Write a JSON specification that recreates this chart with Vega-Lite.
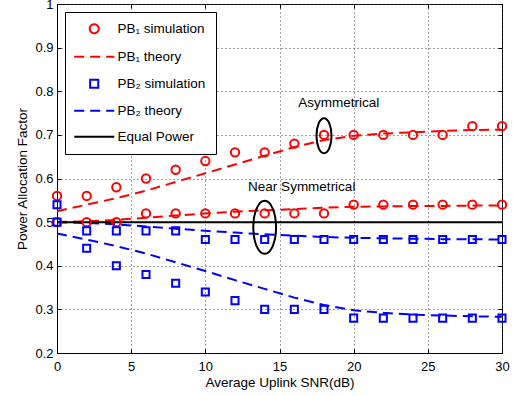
{
  "$schema": "https://vega.github.io/schema/vega-lite/v6.json",
  "width": 445,
  "height": 349,
  "autosize": "none",
  "padding": {"left": 57, "top": 4, "right": 11, "bottom": 43},
  "background": "white",
  "config": {
    "font": "Liberation Sans",
    "view": {"stroke": "black", "strokeWidth": 1},
    "axis": {
      "labelFont": "Liberation Sans",
      "titleFont": "Liberation Sans",
      "labelFontSize": 13,
      "titleFontSize": 13.5,
      "labelColor": "black",
      "titleColor": "black",
      "titleFontWeight": "normal",
      "domainColor": "black",
      "tickColor": "black",
      "tickSize": -4,
      "gridColor": "#444",
      "gridDash": [1, 3],
      "gridWidth": 1
    },
    "legend": {
      "labelFont": "Liberation Sans",
      "labelFontSize": 13.5,
      "labelColor": "black"
    }
  },
  "resolve": {"axis": {"x": "independent", "y": "independent"}},
  "datasets": {
    "pts": [
      {"x": 0, "y": 0.56, "series": "PB₁ simulation", "curve": "b1a"},
      {"x": 2, "y": 0.56, "series": "PB₁ simulation", "curve": "b1a"},
      {"x": 4, "y": 0.58, "series": "PB₁ simulation", "curve": "b1a"},
      {"x": 6, "y": 0.60, "series": "PB₁ simulation", "curve": "b1a"},
      {"x": 8, "y": 0.62, "series": "PB₁ simulation", "curve": "b1a"},
      {"x": 10, "y": 0.64, "series": "PB₁ simulation", "curve": "b1a"},
      {"x": 12, "y": 0.66, "series": "PB₁ simulation", "curve": "b1a"},
      {"x": 14, "y": 0.66, "series": "PB₁ simulation", "curve": "b1a"},
      {"x": 16, "y": 0.68, "series": "PB₁ simulation", "curve": "b1a"},
      {"x": 18, "y": 0.70, "series": "PB₁ simulation", "curve": "b1a"},
      {"x": 20, "y": 0.70, "series": "PB₁ simulation", "curve": "b1a"},
      {"x": 22, "y": 0.70, "series": "PB₁ simulation", "curve": "b1a"},
      {"x": 24, "y": 0.70, "series": "PB₁ simulation", "curve": "b1a"},
      {"x": 26, "y": 0.70, "series": "PB₁ simulation", "curve": "b1a"},
      {"x": 28, "y": 0.72, "series": "PB₁ simulation", "curve": "b1a"},
      {"x": 30, "y": 0.72, "series": "PB₁ simulation", "curve": "b1a"},
      {"x": 0, "y": 0.50, "series": "PB₁ simulation", "curve": "b1s"},
      {"x": 2, "y": 0.50, "series": "PB₁ simulation", "curve": "b1s"},
      {"x": 4, "y": 0.50, "series": "PB₁ simulation", "curve": "b1s"},
      {"x": 6, "y": 0.52, "series": "PB₁ simulation", "curve": "b1s"},
      {"x": 8, "y": 0.52, "series": "PB₁ simulation", "curve": "b1s"},
      {"x": 10, "y": 0.52, "series": "PB₁ simulation", "curve": "b1s"},
      {"x": 12, "y": 0.52, "series": "PB₁ simulation", "curve": "b1s"},
      {"x": 14, "y": 0.52, "series": "PB₁ simulation", "curve": "b1s"},
      {"x": 16, "y": 0.52, "series": "PB₁ simulation", "curve": "b1s"},
      {"x": 18, "y": 0.52, "series": "PB₁ simulation", "curve": "b1s"},
      {"x": 20, "y": 0.54, "series": "PB₁ simulation", "curve": "b1s"},
      {"x": 22, "y": 0.54, "series": "PB₁ simulation", "curve": "b1s"},
      {"x": 24, "y": 0.54, "series": "PB₁ simulation", "curve": "b1s"},
      {"x": 26, "y": 0.54, "series": "PB₁ simulation", "curve": "b1s"},
      {"x": 28, "y": 0.54, "series": "PB₁ simulation", "curve": "b1s"},
      {"x": 30, "y": 0.54, "series": "PB₁ simulation", "curve": "b1s"},
      {"x": 0, "y": 0.50, "series": "PB₂ simulation", "curve": "b2s"},
      {"x": 2, "y": 0.48, "series": "PB₂ simulation", "curve": "b2s"},
      {"x": 4, "y": 0.48, "series": "PB₂ simulation", "curve": "b2s"},
      {"x": 6, "y": 0.48, "series": "PB₂ simulation", "curve": "b2s"},
      {"x": 8, "y": 0.48, "series": "PB₂ simulation", "curve": "b2s"},
      {"x": 10, "y": 0.46, "series": "PB₂ simulation", "curve": "b2s"},
      {"x": 12, "y": 0.46, "series": "PB₂ simulation", "curve": "b2s"},
      {"x": 14, "y": 0.46, "series": "PB₂ simulation", "curve": "b2s"},
      {"x": 16, "y": 0.46, "series": "PB₂ simulation", "curve": "b2s"},
      {"x": 18, "y": 0.46, "series": "PB₂ simulation", "curve": "b2s"},
      {"x": 20, "y": 0.46, "series": "PB₂ simulation", "curve": "b2s"},
      {"x": 22, "y": 0.46, "series": "PB₂ simulation", "curve": "b2s"},
      {"x": 24, "y": 0.46, "series": "PB₂ simulation", "curve": "b2s"},
      {"x": 26, "y": 0.46, "series": "PB₂ simulation", "curve": "b2s"},
      {"x": 28, "y": 0.46, "series": "PB₂ simulation", "curve": "b2s"},
      {"x": 30, "y": 0.46, "series": "PB₂ simulation", "curve": "b2s"},
      {"x": 0, "y": 0.54, "series": "PB₂ simulation", "curve": "b2a"},
      {"x": 2, "y": 0.44, "series": "PB₂ simulation", "curve": "b2a"},
      {"x": 4, "y": 0.40, "series": "PB₂ simulation", "curve": "b2a"},
      {"x": 6, "y": 0.38, "series": "PB₂ simulation", "curve": "b2a"},
      {"x": 8, "y": 0.36, "series": "PB₂ simulation", "curve": "b2a"},
      {"x": 10, "y": 0.34, "series": "PB₂ simulation", "curve": "b2a"},
      {"x": 12, "y": 0.32, "series": "PB₂ simulation", "curve": "b2a"},
      {"x": 14, "y": 0.30, "series": "PB₂ simulation", "curve": "b2a"},
      {"x": 16, "y": 0.30, "series": "PB₂ simulation", "curve": "b2a"},
      {"x": 18, "y": 0.30, "series": "PB₂ simulation", "curve": "b2a"},
      {"x": 20, "y": 0.28, "series": "PB₂ simulation", "curve": "b2a"},
      {"x": 22, "y": 0.28, "series": "PB₂ simulation", "curve": "b2a"},
      {"x": 24, "y": 0.28, "series": "PB₂ simulation", "curve": "b2a"},
      {"x": 26, "y": 0.28, "series": "PB₂ simulation", "curve": "b2a"},
      {"x": 28, "y": 0.28, "series": "PB₂ simulation", "curve": "b2a"},
      {"x": 30, "y": 0.28, "series": "PB₂ simulation", "curve": "b2a"}
    ],
    "lines": [
      {"x": 0, "y": 0.525, "series": "PB₁ theory", "curve": "t1a"},
      {"x": 2, "y": 0.54, "series": "PB₁ theory", "curve": "t1a"},
      {"x": 4, "y": 0.555, "series": "PB₁ theory", "curve": "t1a"},
      {"x": 6, "y": 0.572, "series": "PB₁ theory", "curve": "t1a"},
      {"x": 8, "y": 0.592, "series": "PB₁ theory", "curve": "t1a"},
      {"x": 10, "y": 0.612, "series": "PB₁ theory", "curve": "t1a"},
      {"x": 12, "y": 0.632, "series": "PB₁ theory", "curve": "t1a"},
      {"x": 14, "y": 0.652, "series": "PB₁ theory", "curve": "t1a"},
      {"x": 16, "y": 0.672, "series": "PB₁ theory", "curve": "t1a"},
      {"x": 18, "y": 0.688, "series": "PB₁ theory", "curve": "t1a"},
      {"x": 20, "y": 0.698, "series": "PB₁ theory", "curve": "t1a"},
      {"x": 22, "y": 0.703, "series": "PB₁ theory", "curve": "t1a"},
      {"x": 24, "y": 0.706, "series": "PB₁ theory", "curve": "t1a"},
      {"x": 26, "y": 0.709, "series": "PB₁ theory", "curve": "t1a"},
      {"x": 28, "y": 0.711, "series": "PB₁ theory", "curve": "t1a"},
      {"x": 30, "y": 0.712, "series": "PB₁ theory", "curve": "t1a"},
      {"x": 0, "y": 0.500, "series": "PB₁ theory", "curve": "t1s"},
      {"x": 2, "y": 0.502, "series": "PB₁ theory", "curve": "t1s"},
      {"x": 4, "y": 0.505, "series": "PB₁ theory", "curve": "t1s"},
      {"x": 6, "y": 0.510, "series": "PB₁ theory", "curve": "t1s"},
      {"x": 8, "y": 0.515, "series": "PB₁ theory", "curve": "t1s"},
      {"x": 10, "y": 0.520, "series": "PB₁ theory", "curve": "t1s"},
      {"x": 12, "y": 0.524, "series": "PB₁ theory", "curve": "t1s"},
      {"x": 14, "y": 0.527, "series": "PB₁ theory", "curve": "t1s"},
      {"x": 16, "y": 0.530, "series": "PB₁ theory", "curve": "t1s"},
      {"x": 18, "y": 0.533, "series": "PB₁ theory", "curve": "t1s"},
      {"x": 20, "y": 0.535, "series": "PB₁ theory", "curve": "t1s"},
      {"x": 22, "y": 0.536, "series": "PB₁ theory", "curve": "t1s"},
      {"x": 24, "y": 0.537, "series": "PB₁ theory", "curve": "t1s"},
      {"x": 26, "y": 0.537, "series": "PB₁ theory", "curve": "t1s"},
      {"x": 28, "y": 0.538, "series": "PB₁ theory", "curve": "t1s"},
      {"x": 30, "y": 0.538, "series": "PB₁ theory", "curve": "t1s"},
      {"x": 0, "y": 0.500, "series": "PB₂ theory", "curve": "t2s"},
      {"x": 2, "y": 0.498, "series": "PB₂ theory", "curve": "t2s"},
      {"x": 4, "y": 0.495, "series": "PB₂ theory", "curve": "t2s"},
      {"x": 6, "y": 0.490, "series": "PB₂ theory", "curve": "t2s"},
      {"x": 8, "y": 0.485, "series": "PB₂ theory", "curve": "t2s"},
      {"x": 10, "y": 0.480, "series": "PB₂ theory", "curve": "t2s"},
      {"x": 12, "y": 0.476, "series": "PB₂ theory", "curve": "t2s"},
      {"x": 14, "y": 0.472, "series": "PB₂ theory", "curve": "t2s"},
      {"x": 16, "y": 0.469, "series": "PB₂ theory", "curve": "t2s"},
      {"x": 18, "y": 0.466, "series": "PB₂ theory", "curve": "t2s"},
      {"x": 20, "y": 0.464, "series": "PB₂ theory", "curve": "t2s"},
      {"x": 22, "y": 0.463, "series": "PB₂ theory", "curve": "t2s"},
      {"x": 24, "y": 0.462, "series": "PB₂ theory", "curve": "t2s"},
      {"x": 26, "y": 0.461, "series": "PB₂ theory", "curve": "t2s"},
      {"x": 28, "y": 0.461, "series": "PB₂ theory", "curve": "t2s"},
      {"x": 30, "y": 0.460, "series": "PB₂ theory", "curve": "t2s"},
      {"x": 0, "y": 0.474, "series": "PB₂ theory", "curve": "t2a"},
      {"x": 2, "y": 0.460, "series": "PB₂ theory", "curve": "t2a"},
      {"x": 4, "y": 0.445, "series": "PB₂ theory", "curve": "t2a"},
      {"x": 6, "y": 0.428, "series": "PB₂ theory", "curve": "t2a"},
      {"x": 8, "y": 0.408, "series": "PB₂ theory", "curve": "t2a"},
      {"x": 10, "y": 0.388, "series": "PB₂ theory", "curve": "t2a"},
      {"x": 12, "y": 0.367, "series": "PB₂ theory", "curve": "t2a"},
      {"x": 14, "y": 0.347, "series": "PB₂ theory", "curve": "t2a"},
      {"x": 16, "y": 0.327, "series": "PB₂ theory", "curve": "t2a"},
      {"x": 18, "y": 0.310, "series": "PB₂ theory", "curve": "t2a"},
      {"x": 20, "y": 0.298, "series": "PB₂ theory", "curve": "t2a"},
      {"x": 22, "y": 0.292, "series": "PB₂ theory", "curve": "t2a"},
      {"x": 24, "y": 0.288, "series": "PB₂ theory", "curve": "t2a"},
      {"x": 26, "y": 0.286, "series": "PB₂ theory", "curve": "t2a"},
      {"x": 28, "y": 0.284, "series": "PB₂ theory", "curve": "t2a"},
      {"x": 30, "y": 0.283, "series": "PB₂ theory", "curve": "t2a"},
      {"x": 0, "y": 0.5, "series": "Equal Power", "curve": "eq"},
      {"x": 30, "y": 0.5, "series": "Equal Power", "curve": "eq"}
    ],
    "notes": [
      {"x": 19, "y": 0.773, "label": "Asymmetrical"},
      {"x": 16.5, "y": 0.58, "label": "Near Symmetrical"}
    ],
    "bigEllipse": [{"x": 14, "y": 0.488}],
    "smallEllipse": [{"x": 18, "y": 0.698}]
  },
  "layer": [
    {
      "data": {"name": "lines"},
      "mark": {"type": "line", "strokeWidth": 2, "clip": true},
      "encoding": {
        "x": {"field": "x", "type": "quantitative", "scale": {"domain": [0, 30], "nice": false},
              "axis": {"title": "Average Uplink SNR(dB)", "grid": true, "values": [0, 5, 10, 15, 20, 25, 30], "labelFlush": false, "labelPadding": 11, "titlePadding": 2}},
        "y": {"field": "y", "type": "quantitative", "scale": {"domain": [0.2, 1], "nice": false, "zero": false},
              "axis": {"title": "Power Allocation Factor", "grid": true, "values": [0.2, 0.3, 0.4, 0.5, 0.6, 0.7, 0.8, 0.9, 1], "format": "~g", "labelFlush": false, "labelPadding": 8, "titlePadding": 5}},
        "detail": {"field": "curve"},
        "color": {"field": "series", "type": "nominal",
                  "scale": {"domain": ["PB₁ simulation", "PB₁ theory", "PB₂ simulation", "PB₂ theory", "Equal Power"],
                            "range": ["#ff0000", "#ff0000", "#0000ff", "#0000ff", "#000000"]},
                  "legend": {"title": null, "orient": "top-left", "offset": 8, "fillColor": "white", "strokeColor": "black",
                             "padding": 10, "rowPadding": 11, "labelOffset": 29, "symbolStrokeWidth": 2, "symbolSize": 81}},
        "strokeDash": {"field": "series", "type": "nominal",
                       "scale": {"domain": ["PB₁ simulation", "PB₁ theory", "PB₂ simulation", "PB₂ theory", "Equal Power"],
                                 "range": [[1, 0], [10, 6], [1, 0], [10, 6], [1, 0]]}}
      }
    },
    {
      "data": {"name": "lines"},
      "transform": [{"filter": "false"}],
      "mark": {"type": "point", "opacity": 0},
      "encoding": {
        "x": {"field": "x", "type": "quantitative",
              "axis": {"orient": "top", "title": null, "labels": false, "grid": false, "domain": false, "values": [0, 5, 10, 15, 20, 25, 30]}},
        "y": {"field": "y", "type": "quantitative",
              "axis": {"orient": "right", "title": null, "labels": false, "grid": false, "domain": false, "values": [0.2, 0.3, 0.4, 0.5, 0.6, 0.7, 0.8, 0.9, 1]}}
      }
    },
    {
      "data": {"name": "pts"},
      "transform": [{"filter": "datum.series === 'PB₁ simulation'"}],
      "mark": {"type": "point", "shape": "circle", "size": 70, "filled": false, "strokeWidth": 2, "opacity": 1},
      "encoding": {
        "x": {"field": "x", "type": "quantitative", "axis": null},
        "y": {"field": "y", "type": "quantitative", "axis": null},
        "color": {"field": "series", "type": "nominal"}
      }
    },
    {
      "data": {"name": "pts"},
      "transform": [{"filter": "datum.series === 'PB₂ simulation'"}],
      "mark": {"type": "point", "shape": "square", "size": 50, "filled": false, "strokeWidth": 2, "opacity": 1},
      "encoding": {
        "x": {"field": "x", "type": "quantitative", "axis": null},
        "y": {"field": "y", "type": "quantitative", "axis": null},
        "color": {"field": "series", "type": "nominal"}
      }
    },
    {
      "data": {"name": "lines"},
      "transform": [{"filter": "false"}],
      "mark": {"type": "point", "filled": false, "strokeWidth": 2, "opacity": 1},
      "encoding": {
        "x": {"field": "x", "type": "quantitative", "axis": null},
        "y": {"field": "y", "type": "quantitative", "axis": null},
        "color": {"field": "series", "type": "nominal"},
        "shape": {"field": "series", "type": "nominal",
                  "scale": {"domain": ["PB₁ simulation", "PB₁ theory", "PB₂ simulation", "PB₂ theory", "Equal Power"],
                            "range": ["M 1.77 0 A 1 1 0 1 0 3.77 0 A 1 1 0 1 0 1.77 0 Z",
                                      "M -1.67 0 L 7.22 0",
                                      "M 1.87 -0.9 L 3.67 -0.9 L 3.67 0.9 L 1.87 0.9 Z",
                                      "M -1.67 0 L 7.22 0",
                                      "M -1.67 0 L 7.22 0"]}}
      }
    },
    {
      "data": {"name": "notes"},
      "mark": {"type": "text", "fontSize": 13.5, "color": "black", "font": "Liberation Sans"},
      "encoding": {
        "x": {"field": "x", "type": "quantitative", "axis": null},
        "y": {"field": "y", "type": "quantitative", "axis": null},
        "text": {"field": "label"}
      }
    },
    {
      "data": {"name": "bigEllipse"},
      "mark": {"type": "point", "filled": false, "stroke": "black", "strokeWidth": 2, "opacity": 1, "size": 2809,
               "shape": "M -0.43 0 A 0.43 1 0 1 0 0.43 0 A 0.43 1 0 1 0 -0.43 0 Z"},
      "encoding": {
        "x": {"field": "x", "type": "quantitative", "axis": null},
        "y": {"field": "y", "type": "quantitative", "axis": null}
      }
    },
    {
      "data": {"name": "smallEllipse"},
      "mark": {"type": "point", "filled": false, "stroke": "black", "strokeWidth": 2, "opacity": 1, "size": 1225,
               "shape": "M -0.43 0 A 0.43 1 0 1 0 0.43 0 A 0.43 1 0 1 0 -0.43 0 Z"},
      "encoding": {
        "x": {"field": "x", "type": "quantitative", "axis": null},
        "y": {"field": "y", "type": "quantitative", "axis": null}
      }
    }
  ]
}
